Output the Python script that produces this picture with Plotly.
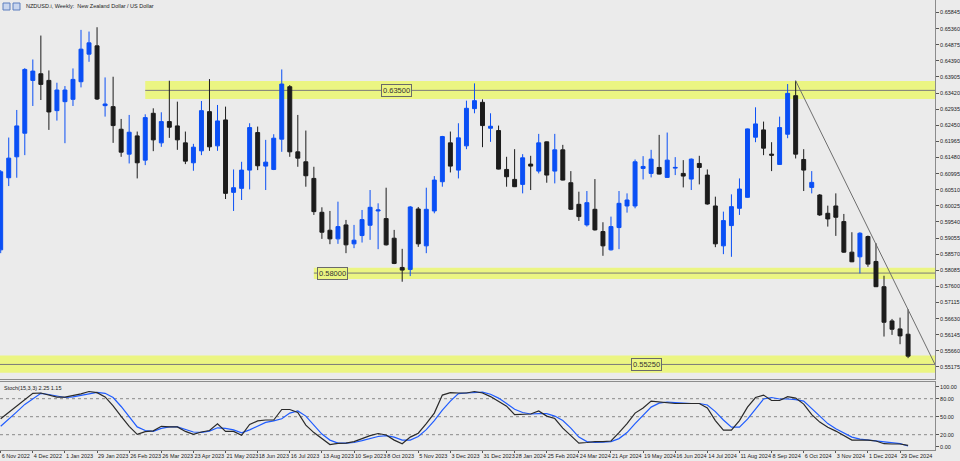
import pandas as pd
import plotly.graph_objects as go

# ---------------- data ----------------
symbol_title = "NZDUSD.i, Weekly:  New Zealand Dollar / US Dollar"
first_week = "2022-11-06"

opens = [0.5870, 0.6087, 0.6150, 0.6221, 0.6380, 0.6400, 0.6380, 0.6289, 0.6316, 0.6323,
         0.6376, 0.6459, 0.6484, 0.6304, 0.6301, 0.6233, 0.6158, 0.6213, 0.6140, 0.6281,
         0.6192, 0.6256, 0.6243, 0.6192, 0.6132, 0.6168, 0.6286, 0.6183, 0.6261, 0.6043,
         0.6055, 0.6110, 0.6223, 0.6122, 0.6112, 0.6203, 0.6361, 0.6165, 0.6135, 0.6085,
         0.5983, 0.5929, 0.5903, 0.5945, 0.5888, 0.5913, 0.5944, 0.5987, 0.5964, 0.5905,
         0.5817, 0.5811, 0.5993, 0.5882, 0.5987, 0.6075, 0.6192, 0.6110, 0.6183, 0.6295,
         0.6314, 0.6236, 0.6229, 0.6112, 0.6082, 0.6067, 0.6128, 0.6107, 0.6195, 0.6107,
         0.6171, 0.6072, 0.6007, 0.5945, 0.5992, 0.5925, 0.5870, 0.5937, 0.6002, 0.6002,
         0.6115, 0.6100, 0.6118, 0.6088, 0.6116, 0.6100, 0.6083, 0.6130, 0.6095, 0.6002,
         0.5882, 0.5943, 0.5995, 0.6028, 0.6209, 0.6231, 0.6158, 0.6127, 0.6218, 0.6334,
         0.6142, 0.6058, 0.6035, 0.5980, 0.6002, 0.5955, 0.5863, 0.5849, 0.5910, 0.5835,
         0.5759, 0.5656, 0.5632, 0.5616]
highs = [0.6110, 0.6208, 0.6291, 0.6417, 0.6443, 0.6515, 0.6410, 0.6373, 0.6363, 0.6416,
         0.6532, 0.6527, 0.6540, 0.6389, 0.6391, 0.6264, 0.6276, 0.6226, 0.6278, 0.6296,
         0.6284, 0.6379, 0.6316, 0.6226, 0.6189, 0.6318, 0.6384, 0.6306, 0.6301, 0.6112,
         0.6135, 0.6251, 0.6241, 0.6201, 0.6218, 0.6413, 0.6366, 0.6276, 0.6229, 0.6120,
         0.5998, 0.5987, 0.6015, 0.5960, 0.5945, 0.5990, 0.6050, 0.6010, 0.6057, 0.5930,
         0.5873, 0.6002, 0.5999, 0.6057, 0.6092, 0.6213, 0.6226, 0.6251, 0.6319, 0.6371,
         0.6323, 0.6281, 0.6244, 0.6150, 0.6173, 0.6158, 0.6153, 0.6219, 0.6196, 0.6219,
         0.6186, 0.6107, 0.6045, 0.6047, 0.6083, 0.5953, 0.5970, 0.6047, 0.6040, 0.6142,
         0.6152, 0.6171, 0.6216, 0.6223, 0.6149, 0.6140, 0.6145, 0.6153, 0.6112, 0.6030,
         0.5985, 0.6037, 0.6085, 0.6235, 0.6299, 0.6256, 0.6194, 0.6271, 0.6369, 0.6379,
         0.6173, 0.6107, 0.6038, 0.6003, 0.6040, 0.5978, 0.5923, 0.5923, 0.5913, 0.5890,
         0.5792, 0.5662, 0.5666, 0.5691]
lows = [0.5860, 0.6062, 0.6087, 0.6155, 0.6303, 0.6321, 0.6231, 0.6259, 0.6191, 0.6303,
        0.6359, 0.6436, 0.6321, 0.6271, 0.6192, 0.6150, 0.6130, 0.6085, 0.6125, 0.6167,
        0.6180, 0.6207, 0.6171, 0.6128, 0.6108, 0.6155, 0.6168, 0.6168, 0.6023, 0.5987,
        0.6020, 0.6052, 0.6110, 0.6050, 0.6110, 0.6165, 0.6150, 0.6120, 0.6060, 0.5975,
        0.5903, 0.5887, 0.5888, 0.5860, 0.5875, 0.5892, 0.5900, 0.5872, 0.5883, 0.5827,
        0.5774, 0.5791, 0.5879, 0.5860, 0.5980, 0.6060, 0.6103, 0.6085, 0.6173, 0.6281,
        0.6179, 0.6195, 0.6112, 0.6060, 0.6059, 0.6040, 0.6050, 0.6100, 0.6072, 0.6070,
        0.6079, 0.5990, 0.5957, 0.5940, 0.5928, 0.5852, 0.5868, 0.5872, 0.5982, 0.5995,
        0.6082, 0.6088, 0.6097, 0.6087, 0.6095, 0.6058, 0.6050, 0.6067, 0.6006, 0.5878,
        0.5857, 0.5849, 0.5975, 0.6027, 0.6194, 0.6155, 0.6107, 0.6126, 0.6206, 0.6145,
        0.6047, 0.6040, 0.5972, 0.5940, 0.5912, 0.5861, 0.5833, 0.5799, 0.5819, 0.5758,
        0.5609, 0.5614, 0.5586, 0.5544]
closes = [0.6105, 0.6146, 0.6243, 0.6413, 0.6408, 0.6368, 0.6285, 0.6351, 0.6351, 0.6383,
          0.6474, 0.6493, 0.6324, 0.6309, 0.6244, 0.6164, 0.6224, 0.6132, 0.6268, 0.6201,
          0.6256, 0.6239, 0.6201, 0.6137, 0.6179, 0.6289, 0.6180, 0.6258, 0.6040, 0.6057,
          0.6110, 0.6238, 0.6123, 0.6134, 0.6206, 0.6369, 0.6165, 0.6146, 0.6093, 0.5985,
          0.5923, 0.5903, 0.5940, 0.5885, 0.5899, 0.5961, 0.5998, 0.5990, 0.5885, 0.5829,
          0.5809, 0.5999, 0.5888, 0.5992, 0.6080, 0.6211, 0.6122, 0.6207, 0.6296, 0.6319,
          0.6244, 0.6242, 0.6113, 0.6090, 0.6060, 0.6147, 0.6122, 0.6192, 0.6095, 0.6171,
          0.6080, 0.5992, 0.5970, 0.6012, 0.5930, 0.5882, 0.5940, 0.6010, 0.6020, 0.6135,
          0.6121, 0.6143, 0.6098, 0.6140, 0.6118, 0.6092, 0.6143, 0.6118, 0.6008, 0.5888,
          0.5958, 0.6000, 0.6053, 0.6234, 0.6249, 0.6176, 0.6155, 0.6238, 0.6341, 0.6158,
          0.6110, 0.6073, 0.5975, 0.5963, 0.5968, 0.5863, 0.5834, 0.5920, 0.5827, 0.5759,
          0.5652, 0.5631, 0.5611, 0.5550]

stoch_k = [46.5, 57, 66.5, 78, 89, 89.5, 85.5, 82.5, 82.5, 85, 88, 92, 90, 83, 68, 50.5, 34, 20.5,
           25, 26.5, 34, 33, 33, 25.5, 20.5, 24.5, 27, 38, 25.5, 25.5, 19, 37, 43, 44.5, 44.5, 62,
           62, 57, 36, 23.5, 13.5, 3.5, 5.5, 6, 8.5, 13.5, 18.5, 22, 19.5, 11, 5, 16, 22.5, 38.5,
           56, 86, 90, 89.5, 89.5, 92, 89.5, 83.5, 76, 67.5, 53.5, 54.5, 54.5, 59.5, 51, 47, 31,
           18.5, 6, 7, 8.5, 8.5, 9.5, 23.5, 38.5, 56, 64.5, 76, 74.5, 73.5, 72, 72, 72, 72, 64.5,
           43.5, 27.5, 27.5, 43.5, 66, 82, 86, 77, 77, 83.5, 81, 71, 53.5, 41, 32.5, 26, 18.5, 11,
           11, 11, 9.5, 5, 4.5, 4.5, 2.25]
stoch_d = [34, 45.5, 58, 70.5, 80.5, 89, 87, 84, 82, 83, 85.5, 88.5, 90.5, 89, 82, 67, 49, 33,
           27, 25.5, 30.5, 33, 33, 29, 24.5, 24, 26, 31.5, 30.5, 28, 23, 28, 34, 40.5, 43, 46.5,
           56, 59.5, 51, 36, 21, 11, 6, 6, 7, 10, 13.5, 17, 18.5, 16, 11, 11, 17, 28.5, 43.5, 61,
           76, 88.5, 89.5, 90, 91, 87.5, 81, 72, 62.5, 57, 54.5, 55, 55, 51, 43.5, 31, 16, 8.5, 7,
           7.5, 8.5, 13.5, 23.5, 38.5, 52.5, 66, 72.5, 74.5, 73.5, 72.5, 72, 72, 69.5, 58.5, 44.5,
           32.5, 32.5, 46, 63.5, 79.5, 82, 79.5, 79.5, 78.5, 76, 63.5, 49.5, 38.5, 30, 22.5, 16,
           12.5, 11, 10, 8.5, 7, 5, 1.15]
stoch_name = "Stoch(15,3,3)"

zone_levels = [0.6350, 0.5800, 0.5525]
zone_highs = [0.6378, 0.5816, 0.5552]
zone_lows = [0.6324, 0.5782, 0.5500]
zone_labels = ["0.63500", "0.58000", "0.55250"]
zone_starts = ["2023-03-12", "2023-08-06", None]

price_ticks = ["0.55175", "0.55660", "0.56145", "0.56630", "0.57115", "0.57600", "0.58085",
               "0.58570", "0.59055", "0.59540", "0.60025", "0.60510", "0.60995", "0.61480",
               "0.61965", "0.62450", "0.62935", "0.63420", "0.63905", "0.64390", "0.64875",
               "0.65360", "0.65845"]
stoch_ticks = [0, 20, 50, 80, 100]
stoch_levels = [20, 50, 80]

date_tick_labels = ["6 Nov 2022", "4 Dec 2022", "1 Jan 2023", "29 Jan 2023", "26 Feb 2023",
                    "26 Mar 2023", "23 Apr 2023", "21 May 2023", "18 Jun 2023", "16 Jul 2023",
                    "13 Aug 2023", "10 Sep 2023", "8 Oct 2023", "5 Nov 2023", "3 Dec 2023",
                    "31 Dec 2023", "28 Jan 2024", "25 Feb 2024", "24 Mar 2024", "21 Apr 2024",
                    "19 May 2024", "16 Jun 2024", "14 Jul 2024", "11 Aug 2024", "8 Sep 2024",
                    "6 Oct 2024", "3 Nov 2024", "1 Dec 2024", "29 Dec 2024"]

# ---------------- layout helpers ----------------
W, H = 960, 461
PLOT_R = 935          # right axis line (px)
PLOT_B = 450          # bottom of lower pane (px)
MAIN_B = 379          # bottom of price pane (px)
STO_T = 382           # top of stoch pane (px)
BAR_PX = 8.03         # px per weekly bar
BAR0_PX = 0.7         # centre of first bar (px)

t0 = pd.Timestamp(first_week)
dates = [t0 + pd.Timedelta(days=7 * i) for i in range(len(opens))]
tick_dates = [pd.Timestamp(pd.to_datetime(s, format="%d %b %Y")) for s in date_tick_labels]


def px_to_date(px):
    return t0 + pd.Timedelta(weeks=(px - BAR0_PX) / BAR_PX)


x_start = px_to_date(0)
x_end = px_to_date(PLOT_R)

# price scale from pixel geometry: 0.000301 per px, 0.6622 at top
P_PER_PX = 0.000301
P_TOP = 0.6622
y_main = [P_TOP - P_PER_PX * MAIN_B, P_TOP]
y_sto = [0 - (PLOT_B - 446.7) / 0.6, 100 + (386.7 - STO_T) / 0.6]

BG = "#ebebeb"
BAND = "#ebf582"
AX = "#8c8c8c"
UP = "#0a4ff5"
DN = "#1c1c1c"
FONT = "Liberation Sans"
TXT = "#222222"
FS = 5.5

fig = go.Figure()

fig.add_trace(go.Candlestick(
    x=dates, open=opens, high=highs, low=lows, close=closes,
    increasing=dict(line=dict(color=UP, width=1), fillcolor=UP),
    decreasing=dict(line=dict(color=DN, width=1), fillcolor=DN),
    whiskerwidth=0, xaxis="x", yaxis="y", showlegend=False,
))

# trend line from the September 2024 high down to the lowest zone at the right edge
fig.add_trace(go.Scatter(
    x=[dates[99], x_end], y=[highs[99], zone_levels[2]],
    mode="lines", line=dict(color="#6e6e6e", width=1),
    xaxis="x", yaxis="y", showlegend=False, hoverinfo="skip",
))

fig.add_trace(go.Scatter(
    x=dates, y=stoch_d, mode="lines", line=dict(color="#1f5cff", width=1.2),
    xaxis="x2", yaxis="y2", showlegend=False,
))
fig.add_trace(go.Scatter(
    x=dates, y=stoch_k, mode="lines", line=dict(color="#2a2a2a", width=1.2),
    xaxis="x2", yaxis="y2", showlegend=False,
))

shapes = []
annotations = []
label_left_px = [381, 316.7, 630.7]
for lvl, hi, lo, lab, st, lpx in zip(zone_levels, zone_highs, zone_lows, zone_labels,
                                     zone_starts, label_left_px):
    xs = pd.Timestamp(st) if st else x_start
    shapes.append(dict(type="rect", xref="x", yref="y", x0=xs, x1=x_end, y0=lo, y1=hi,
                       fillcolor=BAND, line=dict(width=0), layer="below"))
    shapes.append(dict(type="line", xref="x", yref="y", x0=xs, x1=x_end, y0=lvl, y1=lvl,
                       line=dict(color="#7a7a7a", width=1), layer="below"))
    annotations.append(dict(x=px_to_date(lpx), y=lvl, xref="x", yref="y", xanchor="left",
                            yanchor="middle", text=lab, showarrow=False,
                            font=dict(family=FONT, size=7.5, color="#333333"),
                            bgcolor=BAND, bordercolor="#6a6a6a", borderwidth=1, borderpad=1))

for lv in stoch_levels:
    shapes.append(dict(type="line", xref="x2 domain", yref="y2", x0=0, x1=1, y0=lv, y1=lv,
                       line=dict(color="#8a8a8a", width=1, dash="dot"), layer="below"))

annotations.append(dict(x=24 / PLOT_R, y=1 - 6 / PLOT_B, xref="paper", yref="paper",
                        xanchor="left", yanchor="middle", text=symbol_title, showarrow=False,
                        font=dict(family=FONT, size=FS, color=TXT)))
annotations.append(dict(x=2 / PLOT_R, y=1 - 388 / PLOT_B, xref="paper", yref="paper",
                        xanchor="left", yanchor="middle",
                        text=f"{stoch_name} {stoch_k[-1]:.2f} {stoch_d[-1]:.2f}",
                        showarrow=False, font=dict(family=FONT, size=FS, color=TXT)))

# small toolbar icons in the top-left corner
for x0 in (3, 13):
    shapes.append(dict(type="rect", xref="paper", yref="paper",
                       x0=x0 / PLOT_R, x1=(x0 + 7) / PLOT_R,
                       y0=1 - 10 / PLOT_B, y1=1 - 3 / PLOT_B,
                       fillcolor="#c9d6ee", line=dict(color="#5d7fbf", width=1)))

fig.update_layout(
    width=W, height=H,
    margin=dict(l=0, r=W - PLOT_R, t=0, b=H - PLOT_B, autoexpand=False),
    paper_bgcolor=BG, plot_bgcolor=BG,
    font=dict(family=FONT, size=FS, color=TXT),
    showlegend=False,
    xaxis=dict(domain=[0, 1], range=[x_start, x_end], anchor="y", automargin=False,
               showticklabels=False, ticks="", showgrid=False, zeroline=False,
               showline=True, mirror=True, linecolor=AX, linewidth=1,
               rangeslider=dict(visible=False)),
    yaxis=dict(domain=[1 - MAIN_B / PLOT_B, 1], range=y_main, side="right", anchor="x",
               automargin=False,
               tickvals=[float(t) for t in price_ticks], ticktext=price_ticks,
               ticks="outside", ticklen=3, tickcolor="#555555", showgrid=False,
               zeroline=False, showline=True, linecolor=AX, linewidth=1,
               tickfont=dict(family=FONT, size=FS, color=TXT)),
    xaxis2=dict(domain=[0, 1], range=[x_start, x_end], anchor="y2", matches="x",
                automargin=False, tickangle=0,
                tickvals=tick_dates, ticktext=date_tick_labels,
                ticks="outside", ticklen=2, tickcolor="#555555",
                ticklabelposition="outside right", ticklabelstandoff=0,
                showgrid=False, zeroline=False, showline=True, mirror=True,
                linecolor=AX, linewidth=1,
                tickfont=dict(family=FONT, size=FS, color=TXT)),
    yaxis2=dict(domain=[0, 1 - STO_T / PLOT_B], range=y_sto, side="right", anchor="x2",
                automargin=False,
                tickvals=stoch_ticks, ticktext=[f"{v:.2f}" for v in stoch_ticks],
                ticks="outside", ticklen=3, tickcolor="#555555", showgrid=False,
                zeroline=False, showline=True, linecolor=AX, linewidth=1,
                tickfont=dict(family=FONT, size=FS, color=TXT)),
    shapes=shapes, annotations=annotations,
)

fig.write_html(
    "out.html",
    config={"displayModeBar": False},
    post_script="document.body.style.margin='0px';document.body.style.overflow='hidden';",
)
